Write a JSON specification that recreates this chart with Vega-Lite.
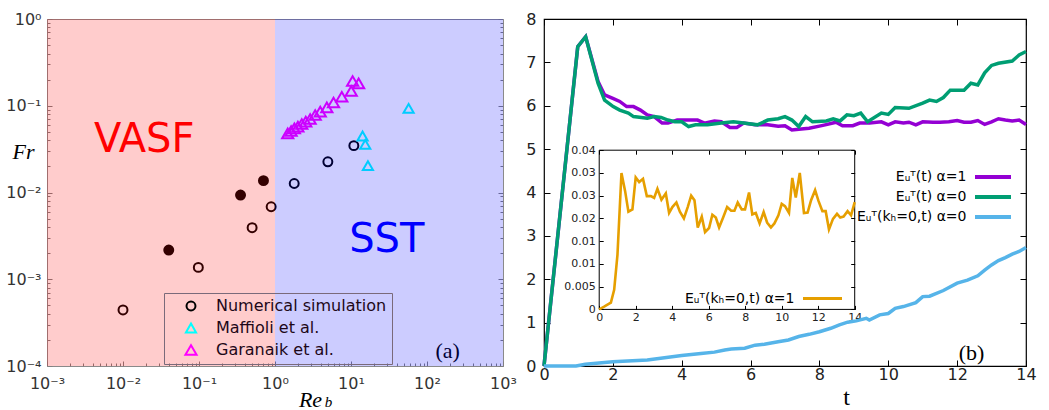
{
  "$schema": "https://vega.github.io/schema/vega-lite/v6.json",
  "background": "white",
  "padding": {"left": 5, "top": 10, "right": 0, "bottom": 0},
  "config": {
    "font": "DejaVu Sans",
    "axis": {"grid": false, "labelFlush": false, "labelOverlap": false, "domain": false, "labelFont": "DejaVu Sans"},
    "style": {"cell": {"stroke": null}}
  },
  "spacing": 41,
  "bounds": "flush",
  "resolve": {"scale": {"color": "independent", "fill": "independent", "shape": "independent", "size": "independent", "x": "independent", "y": "independent"}, "legend": {"color": "independent", "shape": "independent"}},
  "hconcat": [
    {
      "width": 456,
      "height": 347,
      "view": {"stroke": "#8a8a8a", "strokeWidth": 1},
      "resolve": {"axis": {"x": "independent", "y": "independent"}},
      "layer": [
        {
          "data": {"values": [
            {"Re": 0.01, "Fr": 0.000443, "series": "Numerical simulation", "filled": false},
            {"Re": 0.098, "Fr": 0.00137, "series": "Numerical simulation", "filled": false},
            {"Re": 0.5, "Fr": 0.00393, "series": "Numerical simulation", "filled": false},
            {"Re": 0.89, "Fr": 0.00685, "series": "Numerical simulation", "filled": false},
            {"Re": 1.79, "Fr": 0.0127, "series": "Numerical simulation", "filled": false},
            {"Re": 4.96, "Fr": 0.0226, "series": "Numerical simulation", "filled": false},
            {"Re": 10.9, "Fr": 0.0347, "series": "Numerical simulation", "filled": false},
            {"Re": 0.04, "Fr": 0.00217, "series": "Numerical simulation", "filled": true},
            {"Re": 0.352, "Fr": 0.00935, "series": "Numerical simulation", "filled": true},
            {"Re": 0.705, "Fr": 0.0137, "series": "Numerical simulation", "filled": true},
            {"Re": 57.3, "Fr": 0.0933, "series": "Maffioli et al.", "filled": false},
            {"Re": 14.2, "Fr": 0.0448, "series": "Maffioli et al.", "filled": false},
            {"Re": 15.4, "Fr": 0.0359, "series": "Maffioli et al.", "filled": false},
            {"Re": 16.7, "Fr": 0.0204, "series": "Maffioli et al.", "filled": false},
            {"Re": 1.47, "Fr": 0.048, "series": "Garanaik et al.", "filled": false},
            {"Re": 1.63, "Fr": 0.0512, "series": "Garanaik et al.", "filled": false},
            {"Re": 1.8, "Fr": 0.0548, "series": "Garanaik et al.", "filled": false},
            {"Re": 2.0, "Fr": 0.0574, "series": "Garanaik et al.", "filled": false},
            {"Re": 2.25, "Fr": 0.0616, "series": "Garanaik et al.", "filled": false},
            {"Re": 2.54, "Fr": 0.0655, "series": "Garanaik et al.", "filled": false},
            {"Re": 2.9, "Fr": 0.0703, "series": "Garanaik et al.", "filled": false},
            {"Re": 3.38, "Fr": 0.0782, "series": "Garanaik et al.", "filled": false},
            {"Re": 3.94, "Fr": 0.0854, "series": "Garanaik et al.", "filled": false},
            {"Re": 4.81, "Fr": 0.0957, "series": "Garanaik et al.", "filled": false},
            {"Re": 5.89, "Fr": 0.109, "series": "Garanaik et al.", "filled": false},
            {"Re": 7.57, "Fr": 0.127, "series": "Garanaik et al.", "filled": false},
            {"Re": 10.07, "Fr": 0.148, "series": "Garanaik et al.", "filled": false},
            {"Re": 10.5, "Fr": 0.193, "series": "Garanaik et al.", "filled": false},
            {"Re": 12.6, "Fr": 0.181, "series": "Garanaik et al.", "filled": false}
          ]},
          "mark": {"type": "point", "filled": false, "strokeWidth": 2, "opacity": 1},
          "encoding": {
            "x": {"field": "Re", "type": "quantitative",
              "scale": {"type": "log", "domain": [0.001, 1000], "nice": false},
              "axis": {"orient": "bottom",
                "values": [0.001,0.002,0.003,0.004,0.005,0.006,0.007,0.008,0.009,0.01,0.02,0.03,0.04,0.05,0.06,0.07,0.08,0.09,0.1,0.2,0.3,0.4,0.5,0.6,0.7,0.8,0.9,1,2,3,4,5,6,7,8,9,10,20,30,40,50,60,70,80,90,100,200,300,400,500,600,700,800,900,1000],
                "tickSize": {"condition": {"test": "abs(log(datum.value)/LN10 - round(log(datum.value)/LN10)) < 0.001", "value": -5}, "value": -3},
                "tickColor": "#808080",
                "labelExpr": "abs(log(datum.value)/LN10 - round(log(datum.value)/LN10)) < 0.001 ? '10' + ['⁻⁴','⁻³','⁻²','⁻¹','⁰','¹','²','³'][round(log(datum.value)/LN10) + 4] : ''",
                "labelFontSize": 16, "labelColor": "#333333", "labelPadding": 14,
                "title": "Re", "titleFont": "Liberation Serif", "titleFontStyle": "italic", "titleFontWeight": "normal", "titleFontSize": 22, "titleColor": "black",
                "titleX": 263, "titleY": 40, "titleAlign": "center", "titleBaseline": "alphabetic", "titleAngle": 0}},
            "y": {"field": "Fr", "type": "quantitative",
              "scale": {"type": "log", "domain": [0.0001, 1], "nice": false},
              "axis": {"orient": "left",
                "values": [0.0001,0.0002,0.0003,0.0004,0.0005,0.0006,0.0007,0.0008,0.0009,0.001,0.002,0.003,0.004,0.005,0.006,0.007,0.008,0.009,0.01,0.02,0.03,0.04,0.05,0.06,0.07,0.08,0.09,0.1,0.2,0.3,0.4,0.5,0.6,0.7,0.8,0.9,1],
                "tickSize": {"condition": {"test": "abs(log(datum.value)/LN10 - round(log(datum.value)/LN10)) < 0.001", "value": -5}, "value": -3},
                "tickColor": "#808080",
                "labelExpr": "abs(log(datum.value)/LN10 - round(log(datum.value)/LN10)) < 0.001 ? '10' + ['⁻⁴','⁻³','⁻²','⁻¹','⁰','¹','²','³'][round(log(datum.value)/LN10) + 4] : ''",
                "labelFontSize": 16, "labelColor": "#333333", "labelPadding": 11,
                "title": "Fr", "titleFont": "Liberation Serif", "titleFontStyle": "italic", "titleFontWeight": "normal", "titleFontSize": 22, "titleColor": "black",
                "titleX": -24, "titleY": 139, "titleAlign": "center", "titleBaseline": "alphabetic", "titleAngle": 0}},
            "color": {"field": "series", "type": "nominal",
              "scale": {"domain": ["Numerical simulation", "Maffioli et al.", "Garanaik et al."], "range": ["#000000", "#00ffff", "#ff00ff"]},
              "legend": {"orient": "none", "legendX": 117, "legendY": 274, "title": null, "strokeColor": "#7a6a7a", "padding": 5,
                "symbolOffset": 14, "labelOffset": 17, "labelFontSize": 16, "labelColor": "#1e0818", "labelLimit": 400, "rowPadding": 4,
                "symbolStrokeWidth": 2, "symbolSize": 100,
                "encode": {"symbols": {"update": {"stroke": {"signal": "datum.value == 'Maffioli et al.' ? '#33cccc' : datum.value == 'Garanaik et al.' ? '#ff00cc' : '#330000'"}}}}}},
            "shape": {"field": "series", "type": "nominal",
              "scale": {"domain": ["Numerical simulation", "Maffioli et al.", "Garanaik et al."], "range": ["circle", "triangle-up", "triangle-up"]},
              "legend": {"orient": "none", "legendX": 117, "legendY": 274, "title": null, "strokeColor": "#7a6a7a", "padding": 5,
                "symbolOffset": 14, "labelOffset": 17, "labelFontSize": 16, "labelColor": "#1e0818", "labelLimit": 400, "rowPadding": 4,
                "symbolStrokeWidth": 2, "symbolSize": 100,
                "encode": {"symbols": {"update": {"stroke": {"signal": "datum.value == 'Maffioli et al.' ? '#33cccc' : datum.value == 'Garanaik et al.' ? '#ff00cc' : '#330000'"}}}}}},
            "size": {"field": "series", "type": "nominal",
              "scale": {"domain": ["Numerical simulation", "Maffioli et al.", "Garanaik et al."], "range": [80, 125, 125]}, "legend": null},
            "fill": {"condition": {"test": "datum.filled", "value": "#000000"}, "value": "transparent"}
          }
        },
        {
          "data": {"values": [{"label": "(a)", "x": 186.7, "y": 0.0001246}]},
          "mark": {"type": "text", "font": "Liberation Serif", "fontSize": 22, "align": "center", "baseline": "alphabetic", "color": "black"},
          "encoding": {
            "x": {"field": "x", "type": "quantitative", "scale": {"type": "log", "domain": [0.001, 1000], "nice": false}, "axis": null},
            "y": {"field": "y", "type": "quantitative", "scale": {"type": "log", "domain": [0.0001, 1], "nice": false}, "axis": null},
            "text": {"field": "label"}
          }
        },
        {
          "data": {"values": [{"label": "b", "x": 5.06, "y": 0.0000335}]},
          "mark": {"type": "text", "font": "Liberation Serif", "fontStyle": "italic", "fontSize": 15, "align": "center", "baseline": "alphabetic", "color": "black"},
          "encoding": {
            "x": {"field": "x", "type": "quantitative", "scale": {"type": "log", "domain": [0.001, 1000], "nice": false}, "axis": null},
            "y": {"field": "y", "type": "quantitative", "scale": {"type": "log", "domain": [0.0001, 1], "nice": false}, "axis": null},
            "text": {"field": "label"}
          }
        },
        {
          "data": {"name": "regimes", "values": [
            {"regime": "VASF", "lo": 0.001, "hi": 1, "lx": 0.019, "ly": 0.029},
            {"regime": "SST", "lo": 1, "hi": 1000, "lx": 29.6, "ly": 0.00208}
          ]},
          "layer": [
            {
              "mark": {"type": "text", "fontSize": 40, "font": "DejaVu Sans", "align": "center", "baseline": "alphabetic"},
              "encoding": {
                "x": {"field": "lx", "type": "quantitative", "scale": {"type": "log", "domain": [0.001, 1000], "nice": false},
                  "axis": {"orient": "top", "labels": false, "title": null,
                    "values": [0.001,0.002,0.003,0.004,0.005,0.006,0.007,0.008,0.009,0.01,0.02,0.03,0.04,0.05,0.06,0.07,0.08,0.09,0.1,0.2,0.3,0.4,0.5,0.6,0.7,0.8,0.9,1,2,3,4,5,6,7,8,9,10,20,30,40,50,60,70,80,90,100,200,300,400,500,600,700,800,900,1000],
                    "tickSize": {"condition": {"test": "abs(log(datum.value)/LN10 - round(log(datum.value)/LN10)) < 0.001", "value": -5}, "value": -3},
                    "tickColor": "#808080"}},
                "y": {"field": "ly", "type": "quantitative", "scale": {"type": "log", "domain": [0.0001, 1], "nice": false},
                  "axis": {"orient": "right", "labels": false, "title": null,
                    "values": [0.0001,0.0002,0.0003,0.0004,0.0005,0.0006,0.0007,0.0008,0.0009,0.001,0.002,0.003,0.004,0.005,0.006,0.007,0.008,0.009,0.01,0.02,0.03,0.04,0.05,0.06,0.07,0.08,0.09,0.1,0.2,0.3,0.4,0.5,0.6,0.7,0.8,0.9,1],
                    "tickSize": {"condition": {"test": "abs(log(datum.value)/LN10 - round(log(datum.value)/LN10)) < 0.001", "value": -5}, "value": -3},
                    "tickColor": "#808080"}},
                "text": {"field": "regime"},
                "fill": {"field": "regime", "type": "nominal", "scale": {"domain": ["VASF", "SST"], "range": ["#ff0000", "#0000ff"]}, "legend": null}
              }
            },
            {
              "mark": {"type": "rect", "fillOpacity": 0.2, "strokeWidth": 0},
              "encoding": {
                "x": {"field": "lo", "type": "quantitative", "scale": {"type": "log", "domain": [0.001, 1000], "nice": false}, "axis": null},
                "x2": {"field": "hi"},
                "fill": {"field": "regime", "type": "nominal", "scale": {"domain": ["VASF", "SST"], "range": ["#ff0000", "#0000ff"]}, "legend": null}
              }
            }
          ]
        }
      ]
    },
    {
      "width": 482,
      "height": 347,
      "view": {"stroke": "black", "strokeWidth": 1.2},
      "resolve": {"scale": {"x": "independent", "y": "independent", "color": "independent"}, "legend": {"color": "independent"}},
      "layer": [
        {
          "resolve": {"axis": {"x": "independent", "y": "independent"}},
          "layer": [
            {
              "data": {"values": [
                {"t":0,"E":0,"s":"a1"},{"t":0.98,"E":7.36,"s":"a1"},{"t":1.21,"E":7.59,"s":"a1"},{"t":1.57,"E":6.56,"s":"a1"},{"t":1.76,"E":6.25,"s":"a1"},{"t":2.0,"E":6.17,"s":"a1"},{"t":2.2,"E":6.1,"s":"a1"},{"t":2.4,"E":5.98,"s":"a1"},{"t":2.6,"E":5.98,"s":"a1"},{"t":2.8,"E":5.9,"s":"a1"},{"t":3.0,"E":5.79,"s":"a1"},{"t":3.2,"E":5.75,"s":"a1"},{"t":3.43,"E":5.6,"s":"a1"},{"t":3.6,"E":5.6,"s":"a1"},{"t":3.87,"E":5.67,"s":"a1"},{"t":4.17,"E":5.67,"s":"a1"},{"t":4.46,"E":5.67,"s":"a1"},{"t":4.66,"E":5.6,"s":"a1"},{"t":4.95,"E":5.65,"s":"a1"},{"t":5.15,"E":5.63,"s":"a1"},{"t":5.4,"E":5.5,"s":"a1"},{"t":5.6,"E":5.5,"s":"a1"},{"t":5.8,"E":5.6,"s":"a1"},{"t":6.13,"E":5.56,"s":"a1"},{"t":6.5,"E":5.56,"s":"a1"},{"t":6.8,"E":5.53,"s":"a1"},{"t":7.0,"E":5.54,"s":"a1"},{"t":7.2,"E":5.44,"s":"a1"},{"t":7.4,"E":5.46,"s":"a1"},{"t":7.7,"E":5.48,"s":"a1"},{"t":8.0,"E":5.53,"s":"a1"},{"t":8.23,"E":5.57,"s":"a1"},{"t":8.48,"E":5.62,"s":"a1"},{"t":8.67,"E":5.54,"s":"a1"},{"t":8.97,"E":5.54,"s":"a1"},{"t":9.17,"E":5.6,"s":"a1"},{"t":9.46,"E":5.6,"s":"a1"},{"t":9.8,"E":5.63,"s":"a1"},{"t":10.0,"E":5.56,"s":"a1"},{"t":10.2,"E":5.63,"s":"a1"},{"t":10.44,"E":5.6,"s":"a1"},{"t":10.6,"E":5.62,"s":"a1"},{"t":10.8,"E":5.56,"s":"a1"},{"t":11.0,"E":5.63,"s":"a1"},{"t":11.3,"E":5.62,"s":"a1"},{"t":11.5,"E":5.62,"s":"a1"},{"t":11.76,"E":5.63,"s":"a1"},{"t":12.0,"E":5.66,"s":"a1"},{"t":12.2,"E":5.62,"s":"a1"},{"t":12.4,"E":5.62,"s":"a1"},{"t":12.6,"E":5.66,"s":"a1"},{"t":12.8,"E":5.57,"s":"a1"},{"t":13.0,"E":5.63,"s":"a1"},{"t":13.2,"E":5.7,"s":"a1"},{"t":13.4,"E":5.67,"s":"a1"},{"t":13.6,"E":5.65,"s":"a1"},{"t":13.8,"E":5.67,"s":"a1"},{"t":14.0,"E":5.57,"s":"a1"},
                {"t":0,"E":0,"s":"a0"},{"t":0.98,"E":7.36,"s":"a0"},{"t":1.21,"E":7.59,"s":"a0"},{"t":1.57,"E":6.52,"s":"a0"},{"t":1.76,"E":6.13,"s":"a0"},{"t":2.01,"E":5.98,"s":"a0"},{"t":2.2,"E":5.9,"s":"a0"},{"t":2.45,"E":5.83,"s":"a0"},{"t":2.6,"E":5.75,"s":"a0"},{"t":3.0,"E":5.71,"s":"a0"},{"t":3.2,"E":5.75,"s":"a0"},{"t":3.4,"E":5.73,"s":"a0"},{"t":3.6,"E":5.67,"s":"a0"},{"t":3.8,"E":5.63,"s":"a0"},{"t":4.0,"E":5.63,"s":"a0"},{"t":4.2,"E":5.52,"s":"a0"},{"t":4.4,"E":5.56,"s":"a0"},{"t":4.75,"E":5.56,"s":"a0"},{"t":5.15,"E":5.6,"s":"a0"},{"t":5.5,"E":5.63,"s":"a0"},{"t":5.8,"E":5.6,"s":"a0"},{"t":6.2,"E":5.56,"s":"a0"},{"t":6.5,"E":5.67,"s":"a0"},{"t":6.8,"E":5.7,"s":"a0"},{"t":7.0,"E":5.75,"s":"a0"},{"t":7.2,"E":5.67,"s":"a0"},{"t":7.4,"E":5.52,"s":"a0"},{"t":7.6,"E":5.75,"s":"a0"},{"t":7.8,"E":5.63,"s":"a0"},{"t":8.2,"E":5.65,"s":"a0"},{"t":8.4,"E":5.7,"s":"a0"},{"t":8.6,"E":5.65,"s":"a0"},{"t":8.8,"E":5.79,"s":"a0"},{"t":9.0,"E":5.77,"s":"a0"},{"t":9.2,"E":5.83,"s":"a0"},{"t":9.4,"E":5.63,"s":"a0"},{"t":9.8,"E":5.83,"s":"a0"},{"t":10.0,"E":5.8,"s":"a0"},{"t":10.2,"E":5.96,"s":"a0"},{"t":10.6,"E":5.94,"s":"a0"},{"t":11.0,"E":6.06,"s":"a0"},{"t":11.2,"E":6.13,"s":"a0"},{"t":11.4,"E":6.1,"s":"a0"},{"t":11.6,"E":6.19,"s":"a0"},{"t":11.8,"E":6.36,"s":"a0"},{"t":12.2,"E":6.36,"s":"a0"},{"t":12.4,"E":6.52,"s":"a0"},{"t":12.6,"E":6.48,"s":"a0"},{"t":12.8,"E":6.76,"s":"a0"},{"t":13.0,"E":6.93,"s":"a0"},{"t":13.2,"E":6.98,"s":"a0"},{"t":13.6,"E":7.03,"s":"a0"},{"t":13.8,"E":7.17,"s":"a0"},{"t":14.0,"E":7.25,"s":"a0"},
                {"t":0,"E":0,"s":"k0"},{"t":0.93,"E":0,"s":"k0"},{"t":1.2,"E":0.04,"s":"k0"},{"t":2.0,"E":0.1,"s":"k0"},{"t":3.0,"E":0.14,"s":"k0"},{"t":3.5,"E":0.19,"s":"k0"},{"t":4.0,"E":0.24,"s":"k0"},{"t":4.56,"E":0.29,"s":"k0"},{"t":4.95,"E":0.32,"s":"k0"},{"t":5.25,"E":0.37,"s":"k0"},{"t":5.44,"E":0.39,"s":"k0"},{"t":5.83,"E":0.41,"s":"k0"},{"t":6.13,"E":0.48,"s":"k0"},{"t":6.4,"E":0.5,"s":"k0"},{"t":6.8,"E":0.56,"s":"k0"},{"t":7.1,"E":0.6,"s":"k0"},{"t":7.4,"E":0.68,"s":"k0"},{"t":7.7,"E":0.73,"s":"k0"},{"t":8.0,"E":0.79,"s":"k0"},{"t":8.33,"E":0.87,"s":"k0"},{"t":8.58,"E":0.95,"s":"k0"},{"t":8.82,"E":1.01,"s":"k0"},{"t":9.07,"E":1.04,"s":"k0"},{"t":9.36,"E":1.1,"s":"k0"},{"t":9.45,"E":1.06,"s":"k0"},{"t":9.75,"E":1.18,"s":"k0"},{"t":10.0,"E":1.21,"s":"k0"},{"t":10.2,"E":1.33,"s":"k0"},{"t":10.44,"E":1.37,"s":"k0"},{"t":10.8,"E":1.46,"s":"k0"},{"t":11.0,"E":1.6,"s":"k0"},{"t":11.2,"E":1.61,"s":"k0"},{"t":11.6,"E":1.74,"s":"k0"},{"t":12.0,"E":1.91,"s":"k0"},{"t":12.3,"E":1.98,"s":"k0"},{"t":12.6,"E":2.08,"s":"k0"},{"t":12.8,"E":2.21,"s":"k0"},{"t":13.0,"E":2.33,"s":"k0"},{"t":13.2,"E":2.43,"s":"k0"},{"t":13.4,"E":2.5,"s":"k0"},{"t":13.6,"E":2.58,"s":"k0"},{"t":13.8,"E":2.64,"s":"k0"},{"t":14.0,"E":2.73,"s":"k0"}
              ]},
              "mark": {"type": "line", "strokeWidth": 3.5},
              "encoding": {
                "x": {"field": "t", "type": "quantitative", "scale": {"domain": [0, 14], "nice": false, "zero": false},
                  "axis": {"orient": "bottom", "values": [0,2,4,6,8,10,12,14], "tickSize": -6, "tickColor": "black",
                    "labelFontSize": 16, "labelColor": "#222222", "labelPadding": 6,
                    "title": "t", "titleFont": "Liberation Serif", "titleFontStyle": "normal", "titleFontWeight": "normal", "titleFontSize": 24, "titleColor": "black",
                    "titleX": 302, "titleY": 38, "titleAlign": "center", "titleBaseline": "alphabetic", "titleAngle": 0}},
                "y": {"field": "E", "type": "quantitative", "scale": {"domain": [0, 8], "nice": false, "zero": false},
                  "axis": {"orient": "left", "values": [0,1,2,3,4,5,6,7,8], "tickSize": -6, "tickColor": "black",
                    "labelFontSize": 16, "labelColor": "#222222", "labelPadding": 14, "title": null}},
                "color": {"field": "s", "type": "nominal", "scale": {"domain": ["a1", "a0", "k0"], "range": ["#9400d3", "#009e73", "#56b4e9"]},
                  "legend": {"orient": "none", "legendX": 441, "legendY": 150, "title": null, "padding": 0,
                    "labelExpr": "datum.value == 'a1' ? 'Eᵤᵀ(t) α=1' : datum.value == 'a0' ? 'Eᵤᵀ(t) α=0' : 'Eᵤᵀ(kₕ=0,t) α=0'",
                    "labelAlign": "right", "labelOffset": -34.5, "labelFontSize": 14, "labelColor": "black", "labelLimit": 400,
                    "symbolType": "M-3,0H3", "symbolSize": 144, "symbolStrokeWidth": 4, "symbolOffset": 0, "rowPadding": 4}}
              }
            },
            {
              "data": {"values": [{"label": "(b)", "t": 12.42, "E": 0.13}]},
              "mark": {"type": "text", "font": "Liberation Serif", "fontSize": 22, "align": "center", "baseline": "alphabetic", "color": "black"},
              "encoding": {
                "x": {"field": "t", "type": "quantitative", "scale": {"domain": [0, 14], "nice": false, "zero": false},
                  "axis": {"orient": "top", "labels": false, "values": [0,2,4,6,8,10,12,14], "tickSize": -6, "tickColor": "black", "title": null}},
                "y": {"field": "E", "type": "quantitative", "scale": {"domain": [0, 8], "nice": false, "zero": false},
                  "axis": {"orient": "right", "labels": false, "values": [0,1,2,3,4,5,6,7,8], "tickSize": -6, "tickColor": "black", "title": null}},
                "text": {"field": "label"}
              }
            }
          ]
        },
        {
          "resolve": {"axis": {"x": "independent", "y": "independent"}},
          "layer": [
            {
              "data": {"values": [{"x0": 0, "x1": 14, "y0": 0, "y1": 0.035}]},
              "mark": {"type": "rect", "fill": "transparent", "stroke": "black", "strokeWidth": 1},
              "encoding": {
                "x": {"field": "x0", "type": "quantitative", "scale": {"domain": [-3.025, 23.386], "nice": false, "zero": false},
                  "axis": {"orient": "bottom", "offset": -56.6, "values": [0,2,4,6,8,10,12,14], "tickSize": -4, "tickColor": "black",
                    "labelFontSize": 11, "labelColor": "#222222", "labelPadding": 6, "title": null}},
                "x2": {"field": "x1"},
                "y": {"field": "y0", "type": "quantitative", "scale": {"domain": [-0.012444, 0.063844], "nice": false, "zero": false},
                  "axis": {"orient": "left", "offset": -55.2, "values": [0,0.005,0.01,0.015,0.02,0.025,0.03,0.035], "format": "~g", "tickSize": -4, "tickColor": "black",
                    "labelFontSize": 11, "labelColor": "#222222", "labelPadding": 8, "title": null}},
                "y2": {"field": "y1"}
              }
            },
            {
              "data": {"values": [
                {"t":0,"E":0,"s":"k1"},{"t":0.27,"E":0.0006,"s":"k1"},{"t":0.64,"E":0.0015,"s":"k1"},{"t":0.82,"E":0.0043,"s":"k1"},{"t":1.0,"E":0.012,"s":"k1"},{"t":1.22,"E":0.030,"s":"k1"},{"t":1.42,"E":0.026,"s":"k1"},{"t":1.6,"E":0.0215,"s":"k1"},{"t":1.82,"E":0.022,"s":"k1"},{"t":2.0,"E":0.029,"s":"k1"},{"t":2.19,"E":0.028,"s":"k1"},{"t":2.4,"E":0.0287,"s":"k1"},{"t":2.61,"E":0.0249,"s":"k1"},{"t":2.83,"E":0.0249,"s":"k1"},{"t":3.01,"E":0.0245,"s":"k1"},{"t":3.19,"E":0.0265,"s":"k1"},{"t":3.41,"E":0.0241,"s":"k1"},{"t":3.65,"E":0.0255,"s":"k1"},{"t":3.83,"E":0.0212,"s":"k1"},{"t":4.01,"E":0.0225,"s":"k1"},{"t":4.23,"E":0.0235,"s":"k1"},{"t":4.42,"E":0.0215,"s":"k1"},{"t":4.64,"E":0.02,"s":"k1"},{"t":4.85,"E":0.0225,"s":"k1"},{"t":5.04,"E":0.025,"s":"k1"},{"t":5.22,"E":0.024,"s":"k1"},{"t":5.4,"E":0.018,"s":"k1"},{"t":5.62,"E":0.0204,"s":"k1"},{"t":5.8,"E":0.017,"s":"k1"},{"t":6.02,"E":0.0179,"s":"k1"},{"t":6.2,"E":0.0208,"s":"k1"},{"t":6.39,"E":0.0202,"s":"k1"},{"t":6.57,"E":0.018,"s":"k1"},{"t":6.79,"E":0.0202,"s":"k1"},{"t":7.01,"E":0.0225,"s":"k1"},{"t":7.23,"E":0.0217,"s":"k1"},{"t":7.41,"E":0.0217,"s":"k1"},{"t":7.59,"E":0.0235,"s":"k1"},{"t":7.81,"E":0.022,"s":"k1"},{"t":7.99,"E":0.022,"s":"k1"},{"t":8.21,"E":0.0257,"s":"k1"},{"t":8.39,"E":0.0209,"s":"k1"},{"t":8.58,"E":0.0212,"s":"k1"},{"t":8.79,"E":0.0189,"s":"k1"},{"t":9.01,"E":0.0214,"s":"k1"},{"t":9.2,"E":0.0191,"s":"k1"},{"t":9.41,"E":0.018,"s":"k1"},{"t":9.6,"E":0.0189,"s":"k1"},{"t":9.82,"E":0.0207,"s":"k1"},{"t":10.0,"E":0.0232,"s":"k1"},{"t":10.18,"E":0.0227,"s":"k1"},{"t":10.4,"E":0.0212,"s":"k1"},{"t":10.58,"E":0.0289,"s":"k1"},{"t":10.77,"E":0.0246,"s":"k1"},{"t":10.99,"E":0.030,"s":"k1"},{"t":11.22,"E":0.0212,"s":"k1"},{"t":11.42,"E":0.0213,"s":"k1"},{"t":11.61,"E":0.024,"s":"k1"},{"t":11.83,"E":0.0262,"s":"k1"},{"t":12.01,"E":0.0239,"s":"k1"},{"t":12.23,"E":0.0216,"s":"k1"},{"t":12.41,"E":0.0216,"s":"k1"},{"t":12.59,"E":0.0176,"s":"k1"},{"t":12.81,"E":0.0199,"s":"k1"},{"t":13.03,"E":0.021,"s":"k1"},{"t":13.21,"E":0.0202,"s":"k1"},{"t":13.39,"E":0.0204,"s":"k1"},{"t":13.61,"E":0.0216,"s":"k1"},{"t":13.8,"E":0.0207,"s":"k1"},{"t":14.0,"E":0.0236,"s":"k1"}
              ]},
              "mark": {"type": "line", "strokeWidth": 2.6},
              "encoding": {
                "x": {"field": "t", "type": "quantitative", "scale": {"domain": [-3.025, 23.386], "nice": false, "zero": false},
                  "axis": {"orient": "top", "offset": -131.2, "labels": false, "values": [0,2,4,6,8,10,12,14], "tickSize": -4, "tickColor": "black", "title": null}},
                "y": {"field": "E", "type": "quantitative", "scale": {"domain": [-0.012444, 0.063844], "nice": false, "zero": false},
                  "axis": {"orient": "right", "offset": -171.3, "labels": false, "values": [0,0.005,0.01,0.015,0.02,0.025,0.03,0.035], "tickSize": -4, "tickColor": "black", "title": null}},
                "color": {"field": "s", "type": "nominal", "scale": {"domain": ["k1"], "range": ["#e69f00"]},
                  "legend": {"orient": "none", "legendX": 271, "legendY": 272, "title": null, "padding": 0,
                    "labelExpr": "'Eᵤᵀ(kₕ=0,t) α=1'",
                    "labelAlign": "right", "labelOffset": -35.5, "labelFontSize": 14, "labelColor": "black", "labelLimit": 400,
                    "symbolType": "M-3.25,0H3.25", "symbolSize": 144, "symbolStrokeWidth": 3, "symbolOffset": 0}}
              }
            }
          ]
        }
      ]
    }
  ]
}
